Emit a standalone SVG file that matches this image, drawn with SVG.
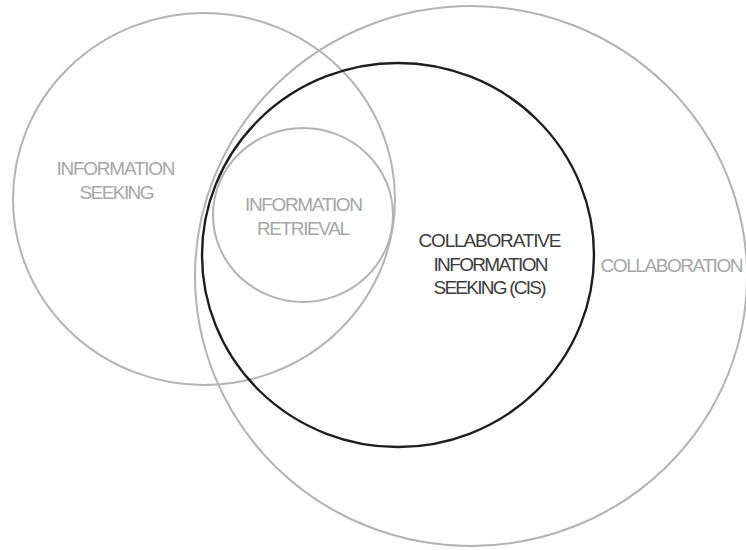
<svg xmlns="http://www.w3.org/2000/svg" width="746" height="550" viewBox="0 0 746 550">
<style>
.c{fill:none;stroke:#b3b3b3;stroke-width:2}
.k{fill:none;stroke:#1e1e1e;stroke-width:2.4}
.t{font-family:"Liberation Sans",Arial,sans-serif;font-size:19px;text-anchor:middle;fill:#a6a6a6}
.d{fill:#3c3c3c}
</style>
<rect width="746" height="550" fill="#ffffff"/>
<g id="collaboration">
<ellipse class="c" cx="471" cy="276" rx="276" ry="270"/>
<text class="t" x="672" y="272" textLength="143">COLLABORATION</text>
</g>
<g id="information-seeking">
<ellipse class="c" cx="204" cy="199" rx="191" ry="186"/>
<text class="t" x="116" y="175" textLength="119">INFORMATION</text>
<text class="t" x="117" y="199" textLength="75">SEEKING</text>
</g>
<g id="information-retrieval">
<ellipse class="c" cx="303" cy="215" rx="90" ry="87"/>
<text class="t" x="304" y="211" textLength="118">INFORMATION</text>
<text class="t" x="303.5" y="235" textLength="93">RETRIEVAL</text>
</g>
<g id="cis">
<ellipse class="k" cx="398" cy="255" rx="196" ry="192"/>
<text class="t d" x="490" y="247" textLength="143">COLLABORATIVE</text>
<text class="t d" x="491" y="271" textLength="115">INFORMATION</text>
<text class="t d" x="490" y="294" textLength="113">SEEKING (CIS)</text>
</g>
<g id="connectors"/>
</svg>
